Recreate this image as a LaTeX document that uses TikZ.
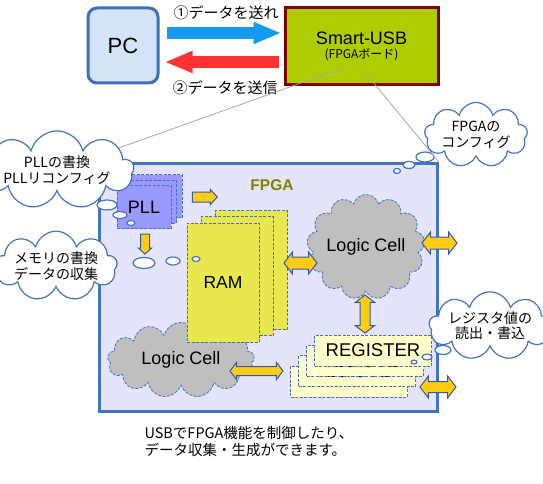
\documentclass[tikz,border=0pt]{standalone}
\usepackage{fontspec}
\setmainfont{Liberation Sans}
\newfontfamily\jp{Noto Sans CJK JP}
\usetikzlibrary{shapes.symbols,shapes.arrows,shapes.geometric,arrows.meta,positioning}

\definecolor{pcfill}{RGB}{210,228,245}
\definecolor{pcline}{RGB}{65,110,180}
\definecolor{usbfill}{RGB}{176,204,0}
\definecolor{usbline}{RGB}{128,0,0}
\definecolor{sendblue}{RGB}{20,155,240}
\definecolor{backred}{RGB}{255,51,51}
\definecolor{fpgafill}{RGB}{228,228,252}
\definecolor{fpgaline}{RGB}{68,114,196}
\definecolor{fpgatext}{RGB}{128,128,0}
\definecolor{dashblue}{RGB}{68,114,196}
\definecolor{pllfill}{RGB}{153,153,255}
\definecolor{ramfill}{RGB}{232,232,78}
\definecolor{regfill}{RGB}{255,255,204}
\definecolor{lcgray}{RGB}{191,191,191}
\definecolor{gold}{RGB}{255,204,20}
\definecolor{goldline}{RGB}{50,90,160}
\definecolor{noteblue}{RGB}{70,115,190}

\newcommand{\px}[1]{\fontsize{#1}{#1}\selectfont}

\begin{document}
\begin{tikzpicture}[x=1pt,y=-1pt,
		pcbox/.style={rectangle,rounded corners=9pt,draw=pcline,line width=3pt,fill=pcfill,minimum width=70pt,minimum height=75pt,font=\px{22}},
		usbbox/.style={rectangle,draw=usbline,line width=3pt,fill=usbfill,minimum width=153pt,minimum height=77pt},
		fpgabox/.style={rectangle,draw=fpgaline,line width=3pt,fill=fpgafill,minimum width=338pt,minimum height=248pt},
		blk/.style={rectangle,draw=dashblue,dash pattern=on 3pt off 1.5pt,line width=0.8pt},
		pllbox/.style={blk,fill=pllfill,minimum width=54pt,minimum height=43pt,font=\px{18}},
		rambox/.style={blk,fill=ramfill,minimum width=72pt,minimum height=119pt,font=\px{17.5}},
		regbox/.style={blk,fill=regfill,minimum width=117pt,minimum height=31pt,font=\px{18.5}},
		logic/.style={cloud,cloud puffs=13,cloud ignores aspect,draw=dashblue,dash pattern=on 3pt off 1.5pt,line width=0.8pt,fill=lcgray,inner sep=0pt,font=\px{18}},
		note/.style={cloud,cloud puffs=9,cloud ignores aspect,draw=noteblue,line width=1.2pt,fill=white,inner sep=0pt,align=center,font=\jp\fontsize{14}{16}\selectfont},
		bubble/.style={ellipse,draw=noteblue,line width=1.2pt,fill=white,inner sep=0pt},
		sarrow/.style={single arrow,single arrow tip angle=95,draw=goldline,line width=1pt,fill=gold,inner xsep=0pt},
		darrow/.style={double arrow,double arrow tip angle=105,draw=goldline,line width=1pt,fill=gold,inner xsep=0pt},
		bigarrow/.style={line width=12pt,-{Triangle[length=28pt,width=20pt]}},
		leader/.style={draw=black!35,line width=0.8pt}
	]
	\useasboundingbox (0,0) rectangle (543,484);

	% PC and board
	\node[pcbox] (pc) at (123,45.5) {PC};
	\node[usbbox, align=center] (usb) at (361.5,46.5) {{\px{18}Smart-USB}\\[2pt]{\jp\px{12}(FPGAボード)}};
	\draw[bigarrow, sendblue] ([shift={(7,-12.5)}]pc.east) -- ([shift={(-2,-13.5)}]usb.west);
	\draw[bigarrow, backred] ([shift={(-5,15.5)}]usb.west) -- ([shift={(5,16.5)}]pc.east);
	\node[font=\jp\px{15}] (send) at (226,13) {①データを送れ};
	\node[font=\jp\px{15}] (back) at (225,88) {②データを送信};

	% FPGA
	\node[fpgabox] (fpga) at (268,287) {};
	\node[font=\bfseries\px{15.5}, text=fpgatext] (fpgalabel) at (272,185) {FPGA};

	\foreach \i in {2,1}
		\node[pllbox] at (144+5.5*\i,207-5.5*\i) {};
	\node[pllbox] (pll) at (144,207) {PLL};

	\node[logic, minimum width=147pt, minimum height=75pt] (lcbot) at (181,360) {Logic Cell};
	\foreach \i in {2,1}
		\node[rambox] at (223+14*\i,282.5-6.25*\i) {};
	\node[rambox] (ram) at (223,282.5) {RAM};

	\node[logic, minimum width=118pt, minimum height=105pt] (lctop) at (366,247) {Logic Cell};

	\foreach \i in {3,2,1}
		\node[regbox] at (373-8*\i,350.5+10.3*\i) {REGISTER};
	\node[regbox] (reg) at (373,350.5) {REGISTER};

	% yellow arrows
	\node[sarrow, minimum height=25pt, inner ysep=4.5pt, single arrow head extend=2.5pt] (a1) at (202.5,197) {};
	\node[sarrow, rotate=-90, minimum height=20pt, inner ysep=4pt, single arrow head extend=2pt] (a2) at (145,242) {};
	\node[darrow, minimum height=33pt, inner ysep=5.5pt, double arrow head extend=5pt] (a3) at (300.5,263) {};
	\node[darrow, minimum height=35pt, inner ysep=5.5pt, double arrow head extend=5pt] (a4) at (439.5,243) {};
	\node[darrow, rotate=90, minimum height=38pt, inner ysep=4.5pt, double arrow head extend=4.5pt] (a5) at (365,314) {};
	\node[darrow, minimum height=53pt, inner ysep=4pt, double arrow head extend=4pt] (a6) at (256.5,371) {};
	\node[darrow, minimum height=36pt, inner ysep=5pt, double arrow head extend=5.5pt] (a7) at (438,387) {};

	% callouts
	\node[note, minimum width=110pt, minimum height=64pt] (pllnote) at (57,170) {PLLの書換\\PLLリコンフィグ};
	\node[bubble, minimum width=20pt, minimum height=10pt] (pb1) at (107,205) {};
	\node[bubble, minimum width=14pt, minimum height=7pt] (pb2) at (120,215) {};
	\node[bubble, minimum width=8pt, minimum height=5pt] (pb3) at (131,223) {};

	\node[note, minimum width=108pt, minimum height=59pt] (memnote) at (56,266) {メモリの書換\\データの収集};
	\node[bubble, minimum width=22pt, minimum height=11pt] (mb1) at (144,263) {};
	\node[bubble, minimum width=14pt, minimum height=8pt] (mb2) at (173,261) {};
	\node[bubble, minimum width=8pt, minimum height=5pt] (mb3) at (196,259) {};

	\node[note, minimum width=103pt, minimum height=65pt] (cfgnote) at (476,135) {FPGAの\\コンフィグ};
	\node[bubble, minimum width=18pt, minimum height=10pt] (cb1) at (425,157) {};
	\node[bubble, minimum width=12pt, minimum height=7pt] (cb2) at (409,165) {};
	\node[bubble, minimum width=7pt, minimum height=5pt] (cb3) at (397,171) {};

	\node[note, minimum width=95pt, minimum height=67pt, font=\jp\fontsize{14}{15}\selectfont] (regnote) at (490,326) {レジスタ値の\\読出・書込};
	\node[bubble, minimum width=16pt, minimum height=9pt] (rb1) at (443,350) {};
	\node[bubble, minimum width=10pt, minimum height=6pt] (rb2) at (427,357) {};
	\node[bubble, minimum width=6pt, minimum height=4pt] (rb3) at (414,362) {};

	% leader lines
	\coordinate (u1) at (343,68);
	\coordinate (u2) at (363,70);
	\draw[leader] (u1) -- (pllnote);
	\draw[leader] (u2) -- (fpga.north east);

	\node[anchor=west, align=left, font=\jp\fontsize{14.5}{17}\selectfont] (caption) at (141,442) {USBでFPGA機能を制御したり、\\データ収集・生成ができます。};
\end{tikzpicture}
\end{document}
